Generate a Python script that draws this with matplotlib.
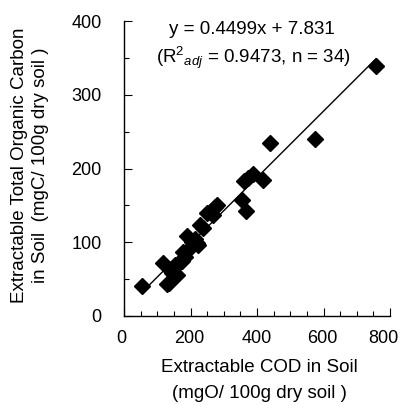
import matplotlib
matplotlib.use("Agg")
import matplotlib.pyplot as plt
import matplotlib.transforms as mtransforms
from matplotlib.ticker import MultipleLocator

plt.rcParams['font.family'] = ['Liberation Sans', 'DejaVu Sans']
plt.rcParams['mathtext.fontset'] = 'custom'
plt.rcParams['mathtext.rm'] = 'Liberation Sans'
plt.rcParams['mathtext.it'] = 'Liberation Sans:italic'

cod = [55, 130, 136, 118, 138, 145, 150, 153, 160, 173, 178, 183, 193, 188, 204,
       213, 219, 223, 229, 239, 249, 259, 269, 274, 279, 354, 367, 361, 374, 389,
       419, 440, 574, 758]
toc = [41, 43, 45, 72, 62, 58, 65, 69, 55, 74, 87, 80, 89, 108, 100,
       105, 99, 96, 123, 119, 139, 141, 137, 148, 150, 157, 142, 183, 187, 193,
       184, 235, 240, 339]
slope = 0.4499
intercept = 7.831
line_x = [55, 758]

x_ticks = [0, 200, 400, 600, 800]
y_ticks = [0, 100, 200, 300, 400]

FS = 13.5
TFS = 13

fig = plt.figure(figsize=(4.03, 4.05), dpi=100)
ax = fig.add_axes([124/403, 1-316/405, (390-124)/403, (316-21)/405])

ax.plot(line_x, [slope*v + intercept for v in line_x], color='black', lw=1)
ax.plot(cod, toc, linestyle='none', marker='D', color='black', ms=8.5)

ax.set_xlim(0, 800)
ax.set_ylim(0, 400)
ax.set_xticks(x_ticks)
ax.set_yticks(y_ticks)
ax.xaxis.set_minor_locator(MultipleLocator(50))
ax.yaxis.set_minor_locator(MultipleLocator(50))
ax.tick_params(which='major', direction='in', length=6, width=0.8, labelsize=TFS)
ax.tick_params(which='minor', direction='in', length=3.5, width=0.8)
ax.tick_params(axis='x', which='major', pad=10)
ax.tick_params(axis='y', which='major', pad=16)
for s in ['top', 'right']:
    ax.spines[s].set_visible(False)
for s in ['left', 'bottom']:
    ax.spines[s].set_linewidth(1)

# nudge x tick labels as in the reference (last one pulled inside the figure)
nudges = [-3, -1, 0, -1, -7]
for lab, dx in zip(ax.get_xticklabels(), nudges):
    lab.set_transform(lab.get_transform() +
                      mtransforms.ScaledTranslation(dx/100, 0, fig.dpi_scale_trans))

ax.text(0.48, 0.97, 'y = 0.4499x + 7.831', transform=ax.transAxes,
        ha='center', va='center', fontsize=FS)
ax.text(0.485, 0.875, r'(R$^{2}$$_{adj}$ = 0.9473, n = 34)', transform=ax.transAxes,
        ha='center', va='center', fontsize=FS)

fig.text(259/403, 1-368/405, 'Extractable COD in Soil', ha='center', va='center', fontsize=FS)
fig.text(259/403, 1-393/405, '(mgO/ 100g dry soil )', ha='center', va='center', fontsize=FS)
fig.text(30/403, 1-165/405, 'Extractable Total Organic Carbon\nin Soil  (mgC/ 100g dry soil )',
         rotation=90, ha='center', va='center', fontsize=FS, linespacing=1.3)

fig.savefig('out.png', dpi=100)
